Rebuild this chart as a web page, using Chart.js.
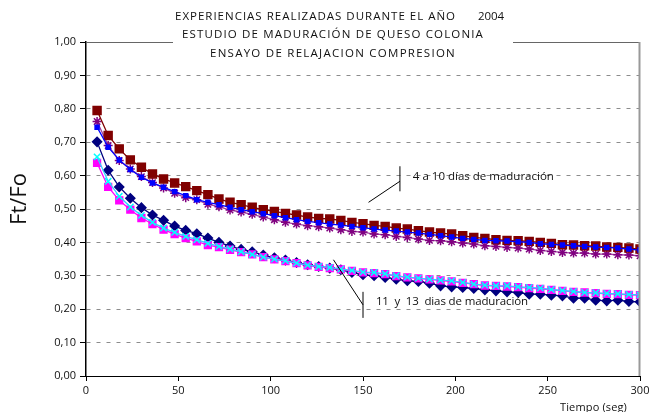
<!DOCTYPE html>
<html>
<head>
<meta charset="utf-8">
<script src="https://cdn.jsdelivr.net/npm/chart.js@4.4.0/dist/chart.umd.min.js"></script>
<style>
  body { margin: 0; background: #fff; }
  canvas { display: block; }
</style>
</head>
<body>
<canvas id="chart" width="649" height="412"></canvas>
<script>
// tiempo (seg)
const times = [6, 12, 18, 24, 30, 36, 42, 48, 54, 60,
    66, 72, 78, 84, 90, 96, 102, 108, 114, 120,
    126, 132, 138, 144, 150, 156, 162, 168, 174, 180,
    186, 192, 198, 204, 210, 216, 222, 228, 234, 240,
    246, 252, 258, 264, 270, 276, 282, 288, 294, 300];

// 4 a 10 dias
const maroonSerie = [0.795, 0.72, 0.68, 0.647, 0.625, 0.605, 0.59, 0.578, 0.567, 0.555,
    0.543, 0.53, 0.52, 0.513, 0.505, 0.498, 0.493, 0.487, 0.482, 0.476,
    0.472, 0.47, 0.466, 0.46, 0.456, 0.451, 0.448, 0.443, 0.44, 0.435,
    0.431, 0.428, 0.425, 0.42, 0.415, 0.412, 0.408, 0.406, 0.405, 0.403,
    0.4, 0.397, 0.393, 0.392, 0.39, 0.389, 0.386, 0.385, 0.383, 0.38];
const purpleSerie = [0.762, 0.69, 0.645, 0.62, 0.597, 0.579, 0.563, 0.547, 0.534, 0.528,
    0.514, 0.507, 0.497, 0.491, 0.484, 0.476, 0.468, 0.46, 0.455, 0.45,
    0.447, 0.443, 0.438, 0.433, 0.431, 0.425, 0.423, 0.418, 0.415, 0.41,
    0.406, 0.405, 0.402, 0.398, 0.395, 0.39, 0.388, 0.385, 0.383, 0.38,
    0.376, 0.373, 0.37, 0.368, 0.368, 0.365, 0.365, 0.363, 0.362, 0.36];
const blueSerie = [0.745, 0.685, 0.647, 0.618, 0.595, 0.578, 0.565, 0.552, 0.54, 0.528,
    0.52, 0.513, 0.505, 0.498, 0.492, 0.486, 0.48, 0.474, 0.468, 0.463,
    0.459, 0.455, 0.452, 0.448, 0.444, 0.44, 0.437, 0.434, 0.431, 0.428,
    0.424, 0.42, 0.416, 0.412, 0.409, 0.406, 0.405, 0.404, 0.402, 0.4,
    0.396, 0.394, 0.392, 0.39, 0.388, 0.386, 0.385, 0.383, 0.38, 0.377];

// 11 y 13 dias
const navySerie = [0.701, 0.616, 0.566, 0.532, 0.504, 0.482, 0.466, 0.449, 0.436, 0.426,
    0.413, 0.4, 0.389, 0.379, 0.372, 0.362, 0.354, 0.347, 0.34, 0.333,
    0.328, 0.323, 0.318, 0.31, 0.303, 0.3, 0.295, 0.29, 0.285, 0.283,
    0.278, 0.27, 0.267, 0.265, 0.262, 0.258, 0.255, 0.252, 0.25, 0.245,
    0.245, 0.242, 0.24, 0.233, 0.233, 0.227, 0.225, 0.227, 0.223, 0.222];
const cyanSerie = [0.656, 0.583, 0.538, 0.506, 0.481, 0.46, 0.443, 0.43, 0.418, 0.408,
    0.397, 0.388, 0.38, 0.372, 0.364, 0.356, 0.35, 0.345, 0.338, 0.332,
    0.328, 0.325, 0.32, 0.316, 0.311, 0.31, 0.306, 0.3, 0.296, 0.293,
    0.29, 0.287, 0.285, 0.28, 0.275, 0.272, 0.27, 0.27, 0.267, 0.265,
    0.263, 0.259, 0.256, 0.253, 0.25, 0.249, 0.247, 0.246, 0.244, 0.243];
const magentaSerie = [0.638, 0.566, 0.526, 0.498, 0.473, 0.455, 0.438, 0.425, 0.413, 0.403,
    0.392, 0.386, 0.378, 0.371, 0.364, 0.356, 0.349, 0.344, 0.338, 0.331,
    0.327, 0.323, 0.319, 0.315, 0.31, 0.308, 0.305, 0.299, 0.295, 0.292,
    0.289, 0.286, 0.283, 0.279, 0.275, 0.271, 0.27, 0.268, 0.266, 0.263,
    0.261, 0.258, 0.255, 0.252, 0.25, 0.248, 0.246, 0.245, 0.243, 0.242];

const titleLines = ["EXPERIENCIAS REALIZADAS DURANTE EL AÑO", "ESTUDIO DE MADURACIÓN DE QUESO COLONIA", "ENSAYO DE RELAJACION COMPRESION"];
const titleYear = "2004";
const yTitle = "Ft/Fo";
const xTitle = "Tiempo (seg)";

const FONT = "'Open Sans', 'DejaVu Sans', sans-serif";

function pts(values) {
    return values.map((v, i) => ({ x: times[i], y: v }));
}

function serie(values, color, lineColor, style, radius) {
    return {
        data: pts(values),
        borderColor: lineColor,
        backgroundColor: color,
        pointBorderColor: color,
        pointBackgroundColor: color,
        pointStyle: style,
        pointRadius: radius,
        pointBorderWidth: 1.5,
        borderWidth: 1.3,
        tension: 0
    };
}

// text spread to a given width with letter spacing
function fitText(ctx, text, x, y, width) {
    ctx.letterSpacing = "0px";
    const w = ctx.measureText(text).width;
    const ls = (width - w) / text.length;
    ctx.letterSpacing = ls + "px";
    ctx.textAlign = "left";
    ctx.fillText(text, x, y);
    ctx.letterSpacing = "0px";
}

const textPlugin = {
    id: "texts",
    afterDraw(chart) {
        const ctx = chart.ctx;
        const a = chart.chartArea;
        const xs = chart.scales.x, ys = chart.scales.y;
        ctx.save();

        // plot border (top broken by title box, right side grey)
        ctx.strokeStyle = "#666";
        ctx.lineWidth = 1;
        ctx.beginPath();
        ctx.moveTo(a.left, a.top + 0.5); ctx.lineTo(173, a.top + 0.5);
        ctx.moveTo(513, a.top + 0.5); ctx.lineTo(a.right, a.top + 0.5);
        ctx.stroke();
        ctx.strokeStyle = "#999";
        ctx.lineWidth = 2;
        ctx.beginPath();
        ctx.moveTo(a.right - 0.5, a.top); ctx.lineTo(a.right - 0.5, a.bottom);
        ctx.stroke();

        // title
        ctx.fillStyle = "#111";
        ctx.textBaseline = "middle";
        ctx.font = "11.5px " + FONT;
        fitText(ctx, titleLines[0], 175, 17, 281);
        fitText(ctx, titleYear, 478, 17, 26);
        fitText(ctx, titleLines[1], 182, 35, 302);
        fitText(ctx, titleLines[2], 210, 54, 246);

        // axis titles
        ctx.font = "22px " + FONT;
        ctx.save();
        ctx.translate(20, 199);
        ctx.rotate(-Math.PI / 2);
        ctx.textAlign = "center";
        ctx.fillText(yTitle, 0, 0);
        ctx.restore();
        ctx.font = "11px " + FONT;
        fitText(ctx, xTitle, 560, 408, 67);

        // annotations
        ctx.strokeStyle = "#000";
        ctx.lineWidth = 1;
        ctx.beginPath();
        ctx.moveTo(xs.getPixelForValue(170), ys.getPixelForValue(0.628));
        ctx.lineTo(xs.getPixelForValue(170), ys.getPixelForValue(0.553));
        ctx.moveTo(xs.getPixelForValue(153), ys.getPixelForValue(0.52));
        ctx.lineTo(xs.getPixelForValue(170), ys.getPixelForValue(0.583));
        ctx.moveTo(xs.getPixelForValue(150), ys.getPixelForValue(0.252));
        ctx.lineTo(xs.getPixelForValue(150), ys.getPixelForValue(0.174));
        ctx.moveTo(xs.getPixelForValue(134), ys.getPixelForValue(0.348));
        ctx.lineTo(xs.getPixelForValue(150), ys.getPixelForValue(0.213));
        ctx.stroke();

        ctx.font = "11.5px " + FONT;
        ctx.fillStyle = "#111";
        fitText(ctx, "4 a 10 días de maduración", xs.getPixelForValue(177), ys.getPixelForValue(0.597), 141);
        fitText(ctx, "11  y  13  dias de maduración", xs.getPixelForValue(157), ys.getPixelForValue(0.221), 152);

        ctx.restore();
    }
};

new Chart(document.getElementById("chart"), {
    type: "line",
    data: {
        datasets: [
            serie(blueSerie, "#0000FF", "#0000FF", "rect", 2.8),
            serie(cyanSerie, "#00FFFF", "#33CCFF", "crossRot", 4.5),
            serie(magentaSerie, "#FF00FF", "#FF00FF", "rect", 4.8),
            serie(maroonSerie, "#800000", "#800000", "rect", 5.6),
            serie(purpleSerie, "#800080", "#A040A0", "star", 4.5),
            serie(navySerie, "#000080", "#000080", "rectRot", 4.5)
        ]
    },
    options: {
        responsive: false,
        devicePixelRatio: 1,
        animation: false,
        layout: { padding: { top: 42, right: 0, left: 0, bottom: 0 } },
        plugins: {
            legend: { display: false },
            tooltip: { enabled: false }
        },
        scales: {
            x: {
                type: "linear",
                min: 0,
                max: 300,
                afterFit: s => { s.height = 36; s.paddingRight = 9; s.paddingLeft = 0; },
                ticks: {
                    stepSize: 50,
                    color: "#111",
                    font: { family: FONT, size: 11 },
                    padding: 3,
                    maxRotation: 0
                },
                grid: {
                    drawOnChartArea: false,
                    tickLength: 5,
                    tickColor: "#000"
                },
                border: { color: "#000", width: 1 }
            },
            y: {
                min: 0,
                max: 1,
                afterFit: s => { s.width = 86; },
                ticks: {
                    stepSize: 0.1,
                    color: "#111",
                    font: { family: FONT, size: 11 },
                    padding: 4,
                    callback: v => v.toFixed(2).replace(".", ",")
                },
                grid: {
                    color: c => (c.tick && (c.tick.value === 0 || Math.abs(c.tick.value - 1) < 1e-9)) ? "rgba(0,0,0,0)" : "#8c8c8c",
                    tickColor: "#000",
                    tickLength: 6,
                    lineWidth: 1
                },
                border: { color: "#000", width: 1.5, dash: [4, 6] }
            }
        }
    },
    plugins: [textPlugin]
});
</script>
</body>
</html>
